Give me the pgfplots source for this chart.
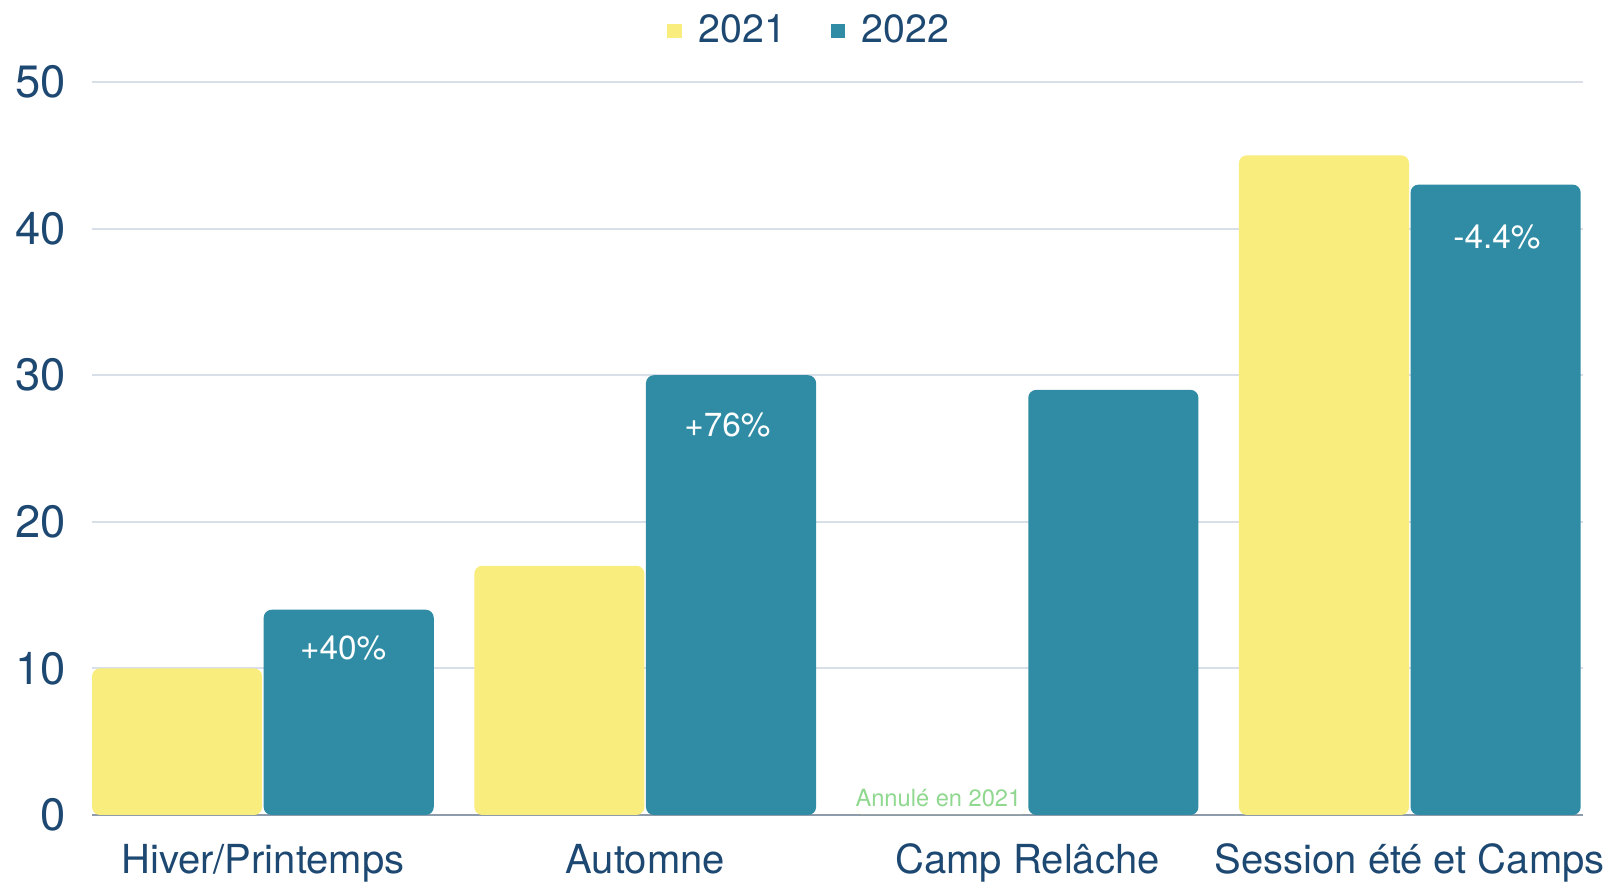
\documentclass[border=0pt]{standalone}
\usepackage{pgfplots}
\pgfplotsset{compat=1.18}
\usepackage{fontspec}
\setmainfont{TeX Gyre Heros}
\definecolor{cyellow}{HTML}{F9ED7E}
\definecolor{cteal}{HTML}{308CA4}
\definecolor{cnavy}{HTML}{1D4871}
\definecolor{cgrid}{HTML}{D9DFE8}
\definecolor{cbase}{HTML}{8E9BAA}
\definecolor{cgreen}{HTML}{90D890}
\begin{document}
\begin{tikzpicture}
\begin{axis}[
  scale only axis,
  width=447.3pt, height=219.9pt,
  xmin=-0.447, xmax=3.453,
  ymin=0, ymax=50,
  ytick={0,10,20,30,40,50},
  xtick={0,1,2,3},
  xticklabels={Hiver/Printemps,Automne,Camp Relâche,Session été et Camps},
  axis line style={draw=none},
  major tick length=0pt,
  ymajorgrids,
  grid style={cgrid, line width=0.6pt},
  extra y ticks={0},
  extra y tick labels={},
  extra y tick style={grid style={cbase, line width=0.8pt}},
  /pgf/number format/assume math mode=true,
  yticklabel style={font=\fontsize{13.6}{15}\selectfont, text=cnavy, xshift=-4.3pt},
  xticklabel style={font=\fontsize{12}{14}\selectfont, text=cnavy, yshift=-5.2pt},
  ybar, bar width=0.445,
  legend style={at={(0.4816,1.07)}, anchor=center, draw=none, fill=none,
    font=\fontsize{11.8}{14}\selectfont, text=cnavy, legend columns=2,
    /tikz/every even column/.append style={column sep=12.5pt},
    nodes={inner sep=1pt}},
  legend image code/.code={\fill[#1,draw=none,rounded corners=0pt] (0pt,-2.15pt) rectangle (4.3pt,2.15pt);
    \path (0pt,0pt) (8.3pt,0pt);},
]
\addplot[fill=cyellow, draw=none, bar shift=-0.2245, rounded corners=2.4pt]
  coordinates {(0,10) (1,17) (2,0) (3,45)};
\addlegendentry{2021}
\addplot[fill=cteal, draw=none, bar shift=0.2245, rounded corners=2.4pt]
  coordinates {(0,14) (1,30) (2,29) (3,43)};
\addlegendentry{2022}
\node[text=white, font=\fontsize{10}{12}\selectfont] at (axis cs:0.21,11.4) {+40\%};
\node[text=white, font=\fontsize{10}{12}\selectfont] at (axis cs:1.215,26.6) {+76\%};
\node[text=white, font=\fontsize{10}{12}\selectfont] at (axis cs:3.228,39.4) {-4.4\%};
\node[text=cgreen, font=\fontsize{7.1}{8}\selectfont, anchor=south, inner sep=1pt] at (axis cs:1.767,0.3) {Annulé en 2021};
\coordinate (bbsw) at (axis description cs:-0.0617,-0.0996);
\coordinate (bbne) at (axis description cs:1.0161,1.1119);
\end{axis}
\pgfresetboundingbox
\path[use as bounding box] (bbsw) rectangle (bbne);
\end{tikzpicture}
\end{document}
